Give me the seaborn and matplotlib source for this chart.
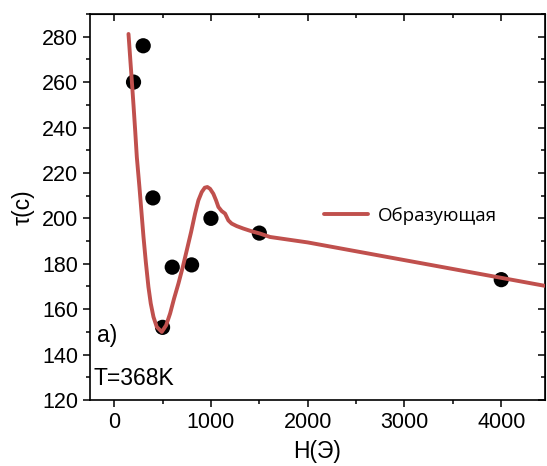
import matplotlib
matplotlib.use("Agg")
import matplotlib.pyplot as plt
from matplotlib.ticker import MultipleLocator
import seaborn as sns

# measured points
field = [200, 300, 400, 500, 600, 800, 1000, 1500, 4000]
tau = [260, 276, 209, 152, 178.5, 179.5, 200, 193.5, 173]

# generating curve
curve_h = [148, 165, 182, 200, 217, 234, 261, 282, 303, 327, 354, 378, 406, 440, 492,
           537, 578, 619, 664, 709, 750, 795, 836, 870, 905, 936, 963, 991, 1025, 1053,
           1077, 1111, 1146, 1180, 1214, 1266, 1335, 1421, 1507, 1610, 2000, 2500, 3000,
           3500, 4000, 4448]
curve_tau = [281.2, 270.9, 260.7, 249.7, 238.7, 227.0, 213.8, 202.8, 191.8, 180.8, 169.8,
             162.5, 156.6, 152.2, 150.0, 152.9, 158.1, 164.7, 171.3, 178.6, 185.9, 194.0,
             202.1, 207.9, 211.6, 213.5, 213.8, 213.0, 210.8, 207.9, 205.0, 203.2, 202.1,
             199.1, 197.7, 196.6, 195.5, 194.3, 193.3, 191.8, 189.4, 185.5, 181.6, 177.7,
             173.8, 170.3]

sns.set_style("ticks")
plt.rcParams["font.family"] = ["Liberation Sans", "DejaVu Sans"]
for key in ["text.color", "axes.labelcolor", "xtick.color", "ytick.color", "axes.edgecolor"]:
    plt.rcParams[key] = "black"

fig = plt.figure(figsize=(5.47, 4.66), dpi=100)
ax = fig.add_axes([0.1645, 0.1416, 0.8315, 0.8284])

sns.scatterplot(x=field, y=tau, ax=ax, color="black", s=120, edgecolor="none", zorder=2)
sns.lineplot(x=curve_h, y=curve_tau, ax=ax, color="#c0504d", linewidth=2.8, sort=False,
             label="Образующая", zorder=3)

ax.set_xlim(-250, 4450)
ax.set_ylim(120, 290)
ax.xaxis.set_major_locator(MultipleLocator(1000))
ax.xaxis.set_minor_locator(MultipleLocator(500))
ax.yaxis.set_major_locator(MultipleLocator(20))
ax.yaxis.set_minor_locator(MultipleLocator(10))
ax.tick_params(which="both", direction="out", width=1.1, labelsize=15.5, top=False, right=False)
ax.tick_params(which="major", length=5)
ax.tick_params(which="minor", length=3)
for sp in ax.spines.values():
    sp.set_linewidth(1.2)

# mirrored inward ticks on top and right
top = ax.secondary_xaxis("top")
top.xaxis.set_major_locator(MultipleLocator(1000))
top.xaxis.set_minor_locator(MultipleLocator(500))
top.tick_params(which="both", direction="in", labeltop=False, width=1.1)
top.tick_params(which="major", length=5)
top.tick_params(which="minor", length=3)
right = ax.secondary_yaxis("right")
right.yaxis.set_major_locator(MultipleLocator(20))
right.yaxis.set_minor_locator(MultipleLocator(10))
right.tick_params(which="both", direction="in", labelright=False, width=1.1)
right.tick_params(which="major", length=5)
right.tick_params(which="minor", length=3)

ax.set_xlabel("H(Э)", fontsize=16.5, labelpad=5)
ax.set_ylabel("τ(c)", fontsize=16.5, labelpad=5)

ax.text(0.015, 0.168, "a)", transform=ax.transAxes, fontsize=16.5, va="center", ha="left")
ax.text(0.008, 0.057, "T=368K", transform=ax.transAxes, fontsize=16.5, va="center", ha="left")

ax.legend(loc="center left", bbox_to_anchor=(0.514, 0.477), frameon=False, borderpad=0,
          borderaxespad=0, handlelength=2.35, handletextpad=0.53,
          prop={"family": ["Open Sans", "DejaVu Sans"], "size": 13.5})

fig.savefig("out.png", dpi=100)
